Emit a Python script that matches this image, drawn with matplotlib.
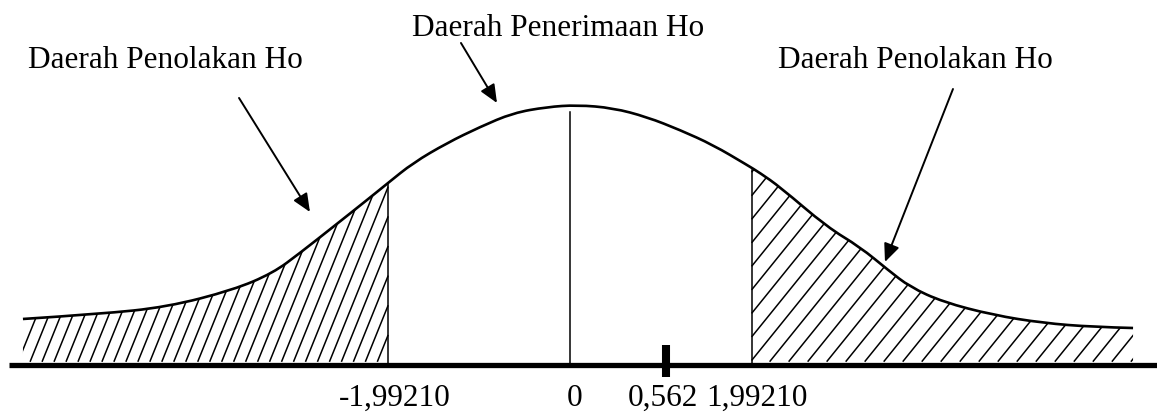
import numpy as np
import matplotlib
matplotlib.use("Agg")
import matplotlib.pyplot as plt
from matplotlib.path import Path
from matplotlib.patches import PathPatch

plt.rcParams['font.family'] = ['Liberation Serif', 'DejaVu Serif']

# bell curve as sketched (z, height)
curve_z = [-5.985, -5.142, -4.409, -3.687, -3.249, -2.954, -2.593, -2.221, -1.991,
           -1.718, -1.346, -0.985, -0.624, -0.252, 0.077, 0.470, 0.842, 1.204,
           1.565, 1.937, 2.079, 2.298, 2.812, 3.173, 3.479, 3.720, 4.081, 4.628,
           5.175, 5.722, 6.160]
curve_h = [0.0708, 0.0785, 0.0892, 0.1154, 0.1415, 0.1723, 0.2123, 0.2538, 0.2800,
           0.3108, 0.3415, 0.3662, 0.3877, 0.3969, 0.4000, 0.3954, 0.3815, 0.3615,
           0.3385, 0.3077, 0.2954, 0.2738, 0.2123, 0.1815, 0.1462, 0.1200, 0.0969,
           0.0769, 0.0646, 0.0585, 0.0569]

crit_left = -1.99210
crit_right = 1.99210
line_tops = [0.280, 0.389, 0.300]   # heights of the three vertical lines

# tick labels under the axis (0,562 is drawn where the sketch puts it)
mark_labels = ['-1,99210', '0', '0,562', '1,99210']
mark_pos = [-1.915, 0.055, 1.02, 2.046]
t_pos = 1.05

region_texts = ['Daerah Penolakan Ho', 'Daerah Penerimaan Ho', 'Daerah Penolakan Ho']
text_xy = [(-5.93, 0.457), (-1.729, 0.506), (2.276, 0.457)]
arrow_from = [(-3.621, 0.4108), (-1.193, 0.4954), (4.190, 0.4246)]
arrow_to = [(-2.845, 0.2354), (-0.799, 0.4031), (3.446, 0.1585)]

z = np.array(curve_z)
h = np.array(curve_h)

fig = plt.figure(figsize=(11.57, 4.12), dpi=100)
ax = fig.add_axes([0, 0, 1, 1])
ax.set_xlim(-6.236, 6.422)
ax.set_ylim(-0.0723, 0.5615)
ax.axis('off')

# smooth the sketch points with quadratic bezier pieces
pts = np.column_stack([z, h])
verts = [pts[0]]
codes = [Path.MOVETO]
for i in range(1, len(pts) - 1):
    end = pts[-1] if i == len(pts) - 2 else (pts[i] + pts[i + 1]) / 2
    verts += [pts[i], end]
    codes += [Path.CURVE3, Path.CURVE3]
curve_path = Path(verts, codes)
ax.add_patch(PathPatch(curve_path, facecolor='none', edgecolor='black', lw=1.9))

area = Path(verts + [(z[-1], 0), (z[0], 0), (z[0], h[0])],
            codes + [Path.LINETO, Path.LINETO, Path.CLOSEPOLY])

top = h.max()
# left tail hatching, steep strokes
slope = 0.348
for s in np.arange(z[0] - 0.05, crit_left, 0.131):
    x1 = min(s + top / slope, crit_left)
    ln, = ax.plot([s, x1], [0.006, 0.006 + (x1 - s) * slope], color='black', lw=1.1)
    ln.set_clip_path(area, ax.transData)
# right tail hatching, flatter strokes
slope = 0.174
for s in np.arange(crit_right - top / slope, z[-1], 0.208):
    x0 = max(s, crit_right)
    ln, = ax.plot([x0, s + top / slope], [0.006 + (x0 - s) * slope, 0.006 + top],
                  color='black', lw=1.1)
    ln.set_clip_path(area, ax.transData)

for x, t in zip([crit_left, 0, crit_right], line_tops):
    ax.plot([x, x], [0, t], color='black', lw=1.1)

# thick axis line and the mark for the test statistic
ax.plot([-6.138, 6.43], [0, 0], color='black', lw=3.8, solid_capstyle='butt')
ax.plot([t_pos, t_pos], [-0.0185, 0.0308], color='black', lw=5.8, solid_capstyle='butt')

for x, lab in zip(mark_pos, mark_labels):
    ax.text(x, -0.0625, lab, ha='center', va='baseline', fontsize=22.5)

for txt, (tx, ty), a0, a1 in zip(region_texts, text_xy, arrow_from, arrow_to):
    ax.text(tx, ty, txt, ha='left', va='baseline', fontsize=22.5)
    ax.annotate('', xy=a1, xytext=a0,
                arrowprops=dict(arrowstyle='-|>,head_length=0.55,head_width=0.24',
                                mutation_scale=20, color='black', lw=1.4,
                                shrinkA=0, shrinkB=0))

fig.savefig('out.png', dpi=100, facecolor='white')
